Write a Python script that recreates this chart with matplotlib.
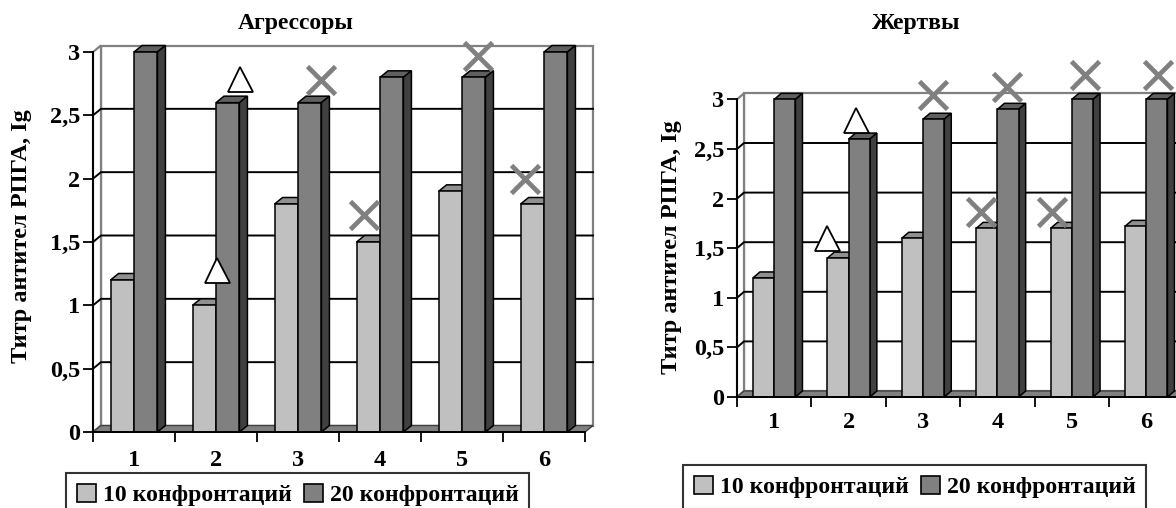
import matplotlib
matplotlib.use('Agg')
import matplotlib.pyplot as plt
from matplotlib.patches import Polygon, Patch

# ---------------- data ----------------
categories = ['1', '2', '3', '4', '5', '6']
series_labels = ['10 конфронтаций', '20 конфронтаций']
titles = ['Агрессоры', 'Жертвы']
ylabel = 'Титр антител РПГА, Ig'
yticks = [0, 0.5, 1, 1.5, 2, 2.5, 3]
ytick_labels = ['0', '0,5', '1', '1,5', '2', '2,5', '3']

aggr_10 = [1.2, 1.0, 1.8, 1.5, 1.9, 1.8]
aggr_20 = [3.0, 2.6, 2.6, 2.8, 2.8, 3.0]
vict_10 = [1.2, 1.4, 1.6, 1.7, 1.7, 1.72]
vict_20 = [3.0, 2.6, 2.8, 2.9, 3.0, 3.0]

# significance markers (x in category units, y in titre units)
aggr_tri_x = [2.01, 2.29]
aggr_tri_y = [1.28, 2.79]
aggr_cross_x = [3.28, 3.80, 5.20, 5.77]
aggr_cross_y = [2.78, 1.715, 2.97, 2.0]
vict_tri_x = [1.71, 2.095]
vict_tri_y = [1.60, 2.79]
vict_cross_x = [3.13, 3.78, 4.13, 4.73, 5.18, 6.16]
vict_cross_y = [3.04, 1.86, 3.12, 1.86, 3.25, 3.25]

# ---------------- style ----------------
plt.rcParams['font.family'] = ['Liberation Serif', 'DejaVu Serif']
plt.rcParams['font.weight'] = 'bold'
FS_TICK = 17.5
FS_TITLE = 17
FS_YLAB = 17.5
FS_LEG = 17.1
LIGHT, LIGHT_TOP = '#c0c0c0', '#909090'
DARK, DARK_TOP, DARK_SIDE = '#808080', '#606060', '#404040'
WALL = '#808080'

W, H = 1176, 508
fig = plt.figure(figsize=(W / 100, H / 100), dpi=100)


def add_axes_px(x0, x1, ytop, ybot):
    return fig.add_axes([x0 / W, 1 - ybot / H, (x1 - x0) / W, (ybot - ytop) / H])


def draw_panel(ax, v10, v20, tri_x, tri_y, cr_x, cr_y, depth, xpad):
    n = len(categories)
    ax.set_xlim(0.5, n + 0.5)
    ax.set_ylim(0, 3)
    bb = ax.get_position()
    wpx = bb.width * W
    hpx = bb.height * H
    dx = depth[0] / (wpx / n)
    dy = depth[1] / (hpx / 3)
    x0, x1 = 0.5, n + 0.5

    # walls & floor
    ax.add_patch(Polygon([(x0 + dx, dy), (x1 + dx, dy), (x1 + dx, 3 + dy), (x0 + dx, 3 + dy)],
                         closed=True, facecolor='white', edgecolor=WALL, lw=1.6,
                         clip_on=False, zorder=0.5))
    ax.add_patch(Polygon([(x0, 0), (x0 + dx, dy), (x0 + dx, 3 + dy), (x0, 3)],
                         closed=True, facecolor='white', edgecolor=WALL, lw=1.6,
                         clip_on=False, zorder=0.6))
    ax.add_patch(Polygon([(x0, 0), (x1, 0), (x1 + dx, dy), (x0 + dx, dy)],
                         closed=True, facecolor=WALL, edgecolor='#404040', lw=1.0,
                         clip_on=False, zorder=0.7))
    for v in yticks[1:-1]:
        ax.plot([x0, x0 + dx, x1 + dx], [v, v + dy, v + dy], color='black',
                lw=1.4, clip_on=False, zorder=0.8)

    w = 1 / 3.5
    xs = [i + 1 for i in range(n)]
    # light bars
    for x, v in zip(xs, v10):
        l = x - w
        ax.add_patch(Polygon([(l, v), (l + w, v), (l + w + dx, v + dy), (l + dx, v + dy)],
                             closed=True, facecolor=LIGHT_TOP, edgecolor='black', lw=1.1,
                             clip_on=False, zorder=2))
    ax.bar([x - w / 2 for x in xs], v10, width=w, color=LIGHT, edgecolor='black',
           lw=1.1, zorder=3, clip_on=False)
    # dark bars
    for x, v in zip(xs, v20):
        l = x
        ax.add_patch(Polygon([(l, v), (l + w, v), (l + w + dx, v + dy), (l + dx, v + dy)],
                             closed=True, facecolor=DARK_TOP, edgecolor='black', lw=1.1,
                             clip_on=False, zorder=4))
        ax.add_patch(Polygon([(l + w, 0), (l + w + dx, dy), (l + w + dx, v + dy), (l + w, v)],
                             closed=True, facecolor=DARK_SIDE, edgecolor='black', lw=1.1,
                             clip_on=False, zorder=4))
    ax.bar([x + w / 2 for x in xs], v20, width=w, color=DARK, edgecolor='black',
           lw=1.1, zorder=5, clip_on=False)

    # markers
    ax.plot(tri_x, tri_y, ls='none', marker='^', ms=18, mfc='white', mec='black',
            mew=1.3, clip_on=False, zorder=10)
    ax.plot(cr_x, cr_y, ls='none', marker='x', ms=20, mec='#808080', mew=3.4,
            clip_on=False, zorder=10)

    # axes
    for s in ['top', 'right']:
        ax.spines[s].set_visible(False)
    for s in ['left', 'bottom']:
        ax.spines[s].set_linewidth(1.4)
        ax.spines[s].set_zorder(6)
    ax.set_yticks(yticks)
    ax.set_yticklabels(ytick_labels, fontsize=FS_TICK, fontweight='bold')
    ax.tick_params(axis='y', direction='out', length=7, width=1.3, pad=2)
    ax.set_xticks([i + 0.5 for i in range(n + 1)])
    ax.set_xticklabels([])
    ax.tick_params(axis='x', which='major', direction='out', length=7, width=1.3)
    ax.set_xticks(xs, minor=True)
    ax.set_xticklabels(categories, minor=True, fontsize=FS_TICK, fontweight='bold')
    ax.tick_params(axis='x', which='minor', length=0, pad=xpad)
    ax.set_facecolor('none')


axL = add_axes_px(93, 585, 52, 432)
draw_panel(axL, aggr_10, aggr_20, aggr_tri_x, aggr_tri_y, aggr_cross_x, aggr_cross_y,
           (8, 6.5), 13)
axR = add_axes_px(737, 737 + 6 * 74.4, 99.4, 397)
draw_panel(axR, vict_10, vict_20, vict_tri_x, vict_tri_y, vict_cross_x, vict_cross_y,
           (7, 6), 10.5)

fig.text(296 / W, 1 - 24 / H, titles[0], ha='center', va='center', fontsize=FS_TITLE, fontweight='bold')
fig.text(916 / W, 1 - 24 / H, titles[1], ha='center', va='center', fontsize=FS_TITLE, fontweight='bold')
fig.text(22 / W, 1 - 236 / H, ylabel, rotation=90, ha='center', va='center', fontsize=FS_YLAB, fontweight='bold')
fig.text(671 / W, 1 - 247 / H, ylabel, rotation=90, ha='center', va='center', fontsize=FS_YLAB, fontweight='bold')

handles = [Patch(facecolor=LIGHT, edgecolor='black', lw=1.2),
           Patch(facecolor=DARK, edgecolor='black', lw=1.2)]
for (lx, ty) in [(66, 473), (683, 465)]:
    leg = fig.legend(handles, series_labels, loc='upper left',
                     bbox_to_anchor=(lx / W, 1 - ty / H), ncol=2, frameon=True,
                     fancybox=False, borderaxespad=0, borderpad=0.45,
                     handlelength=0.8, handleheight=0.8, handletextpad=0.3,
                     columnspacing=0.5, prop={'size': FS_LEG, 'weight': 'bold'})
    leg.get_frame().set_edgecolor('black')
    leg.get_frame().set_linewidth(1.5)

fig.savefig('out.png', dpi=100)
